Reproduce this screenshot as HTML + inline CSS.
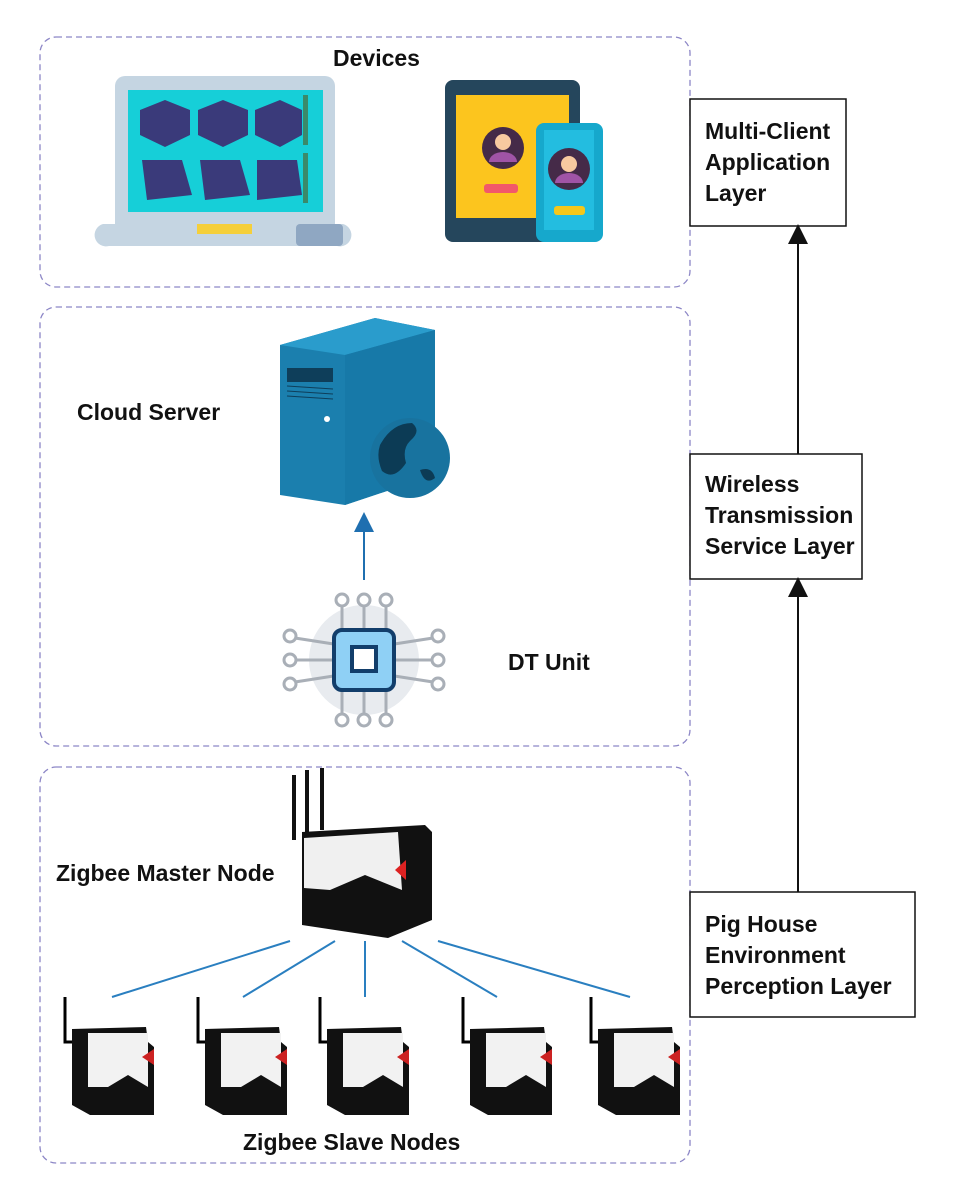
<!DOCTYPE html>
<html><head><meta charset="utf-8"><style>
body{margin:0;background:#fff}
svg{display:block}
text{font-family:"Liberation Sans",Arial,sans-serif;font-weight:bold;fill:#111}
</style></head><body>
<svg width="973" height="1199" viewBox="0 0 973 1199" xmlns="http://www.w3.org/2000/svg">
<defs>
<marker id="ah" markerWidth="10" markerHeight="10" refX="5" refY="5" orient="auto"><path d="M0,0 L10,5 L0,10 z" fill="#111"/></marker>
<marker id="ab" markerWidth="10" markerHeight="10" refX="5" refY="5" orient="auto"><path d="M0,0 L10,5 L0,10 z" fill="#1f6fb0"/></marker>
<g id="slave">
<path d="M5,0 v45 h12" stroke="#000" stroke-width="3" fill="none"/>
<path d="M12,32 L86,30 L88,45 L94,50 L94,118 L30,118 L12,108 z" fill="#111"/>
<path d="M28,36 L88,36 L88,90 L68,78 L48,90 L28,90 z" fill="#f2f2f2"/>
<path d="M82,60 L94,52 L94,68 z" fill="#c22"/>
</g>
</defs>
<g fill="none" stroke="#8c86c6" stroke-width="1.3" stroke-dasharray="6,4">
<rect x="40" y="37" width="650" height="250" rx="16"/>
<rect x="40" y="307" width="650" height="439" rx="16"/>
<rect x="40" y="767" width="650" height="396" rx="16"/>
</g>
<g fill="#fff" stroke="#111" stroke-width="1.5">
<rect x="690" y="99" width="156" height="127"/>
<rect x="690" y="454" width="172" height="125"/>
<rect x="690" y="892" width="225" height="125"/>
</g>
<g font-size="23">
<text x="705" y="139">Multi-Client</text><text x="705" y="170">Application</text><text x="705" y="201">Layer</text>
<text x="705" y="492">Wireless</text><text x="705" y="523">Transmission</text><text x="705" y="554">Service Layer</text>
<text x="705" y="932">Pig House</text><text x="705" y="963">Environment</text><text x="705" y="994">Perception Layer</text>
</g>
<line x1="798" y1="454" x2="798" y2="234" stroke="#111" stroke-width="2" marker-end="url(#ah)"/>
<line x1="798" y1="892" x2="798" y2="587" stroke="#111" stroke-width="2" marker-end="url(#ah)"/>
<g font-size="23">
<text x="333" y="66">Devices</text>
<text x="77" y="420">Cloud Server</text>
<text x="508" y="670">DT Unit</text>
<text x="56" y="881">Zigbee Master Node</text>
<text x="243" y="1150">Zigbee Slave Nodes</text>
</g>
<rect x="115" y="76" width="220" height="160" rx="10" fill="#c5d5e2"/>
<rect x="128" y="90" width="195" height="122" fill="#16cfd8"/>
<g fill="#3a3a7a">
<path d="M140,110 l25,-10 l25,10 l0,25 l-25,12 l-25,-12z"/><path d="M198,110 l25,-10 l25,10 l0,25 l-25,12 l-25,-12z"/><path d="M255,110 l25,-10 l22,10 l0,25 l-22,12 l-25,-12z"/>
<path d="M142,160 l40,0 l10,35 l-45,5z"/><path d="M200,160 l40,0 l10,35 l-45,5z"/><path d="M257,160 l40,0 l5,35 l-45,5z"/>
</g>
<rect x="303" y="95" width="5" height="50" fill="#3a8a6a"/><rect x="303" y="153" width="5" height="50" fill="#3a8a6a"/>
<path d="M103,224 h240 a6,6 0 0 1 -6,22 h-228 a6,6 0 0 1 -6,-22z" fill="#c5d5e2"/>
<rect x="296" y="224" width="47" height="22" rx="4" fill="#8fa7c2"/>
<rect x="197" y="224" width="55" height="10" fill="#f5cf3a"/>
<rect x="445" y="80" width="135" height="162" rx="8" fill="#25465c"/>
<rect x="456" y="95" width="113" height="123" fill="#fcc51e"/>
<circle cx="503" cy="148" r="21" fill="#452a48"/><circle cx="503" cy="142" r="8" fill="#f8c9a0"/><path d="M489,162 a14,10 0 0 1 28,0z" fill="#a054a6"/>
<rect x="484" y="184" width="34" height="9" rx="3" fill="#f2586a"/>
<rect x="536" y="123" width="67" height="119" rx="8" fill="#16a8cc"/>
<rect x="544" y="130" width="50" height="100" fill="#23bde0"/>
<circle cx="569" cy="169" r="21" fill="#452a48"/><circle cx="569" cy="164" r="8" fill="#f8c9a0"/><path d="M555,183 a14,10 0 0 1 28,0z" fill="#a054a6"/>
<rect x="554" y="206" width="31" height="9" rx="3" fill="#f5c71a"/>
<path d="M280,345 L375,318 L435,330 L435,475 L345,505 L280,495z" fill="#1b7fae"/>
<path d="M280,345 L375,318 L435,330 L345,355z" fill="#2a9ccc"/>
<path d="M345,355 L435,330 L435,475 L345,505z" fill="#1779a8"/>
<rect x="287" y="368" width="46" height="14" fill="#0e3e5a"/>
<g stroke="#0e3e5a" stroke-width="1"><line x1="287" y1="386" x2="333" y2="389"/><line x1="287" y1="391" x2="333" y2="394"/><line x1="287" y1="396" x2="333" y2="399"/></g>
<circle cx="327" cy="419" r="3" fill="#fff"/>
<circle cx="410" cy="458" r="40" fill="#18739f"/>
<path d="M380,445 q12,-22 32,-22 q10,8 -2,18 q-8,8 -4,22 q-12,18 -24,8 q-6,-14 -2,-26z" fill="#0c3b55"/>
<path d="M420,470 q12,-4 15,8 q-10,8 -15,-8z" fill="#0c3b55"/>
<line x1="364" y1="580" x2="364" y2="522" stroke="#1f6fb0" stroke-width="2" marker-end="url(#ab)"/>
<circle cx="364" cy="660" r="55" fill="#e8ebef"/>
<g stroke="#a9afb7" stroke-width="3" fill="#fff">
<line x1="342" y1="605" x2="342" y2="640"/><line x1="364" y1="605" x2="364" y2="640"/><line x1="386" y1="605" x2="386" y2="640"/>
<line x1="342" y1="680" x2="342" y2="715"/><line x1="364" y1="680" x2="364" y2="715"/><line x1="386" y1="680" x2="386" y2="715"/>
<line x1="295" y1="638" x2="340" y2="645"/><line x1="295" y1="660" x2="340" y2="660"/><line x1="295" y1="682" x2="340" y2="675"/>
<line x1="433" y1="638" x2="388" y2="645"/><line x1="433" y1="660" x2="388" y2="660"/><line x1="433" y1="682" x2="388" y2="675"/>
<circle cx="342" cy="600" r="6"/><circle cx="364" cy="600" r="6"/><circle cx="386" cy="600" r="6"/>
<circle cx="342" cy="720" r="6"/><circle cx="364" cy="720" r="6"/><circle cx="386" cy="720" r="6"/>
<circle cx="290" cy="636" r="6"/><circle cx="290" cy="660" r="6"/><circle cx="290" cy="684" r="6"/>
<circle cx="438" cy="636" r="6"/><circle cx="438" cy="660" r="6"/><circle cx="438" cy="684" r="6"/>
</g>
<rect x="334" y="630" width="60" height="60" rx="8" fill="#8fd0f5" stroke="#123e6b" stroke-width="4"/>
<rect x="352" y="647" width="24" height="24" fill="#fff" stroke="#123e6b" stroke-width="4"/>
<g stroke="#111" stroke-width="4"><line x1="294" y1="775" x2="294" y2="840"/><line x1="307" y1="770" x2="307" y2="835"/><line x1="322" y1="768" x2="322" y2="830"/></g>
<path d="M302,832 L425,825 L432,832 L432,920 L388,938 L302,925z" fill="#111"/>
<path d="M304,838 L398,832 L402,890 L365,875 L330,890 L304,888z" fill="#f0f0f0"/>
<path d="M395,870 L406,860 L406,880z" fill="#d22"/>
<g stroke="#2a7fc0" stroke-width="2">
<line x1="290" y1="941" x2="112" y2="997"/><line x1="335" y1="941" x2="243" y2="997"/><line x1="365" y1="941" x2="365" y2="997"/><line x1="402" y1="941" x2="497" y2="997"/><line x1="438" y1="941" x2="630" y2="997"/>
</g>
<use href="#slave" x="60" y="997"/><use href="#slave" x="193" y="997"/><use href="#slave" x="315" y="997"/><use href="#slave" x="458" y="997"/><use href="#slave" x="586" y="997"/>
</svg>
</body></html>
